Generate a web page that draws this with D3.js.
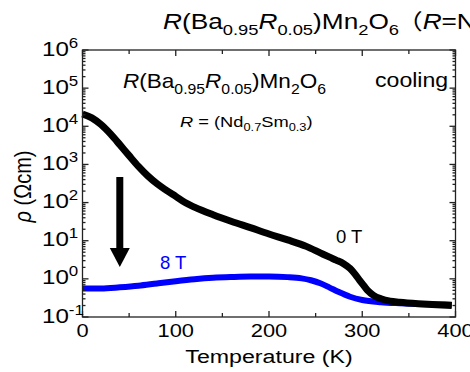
<!DOCTYPE html>
<html>
<head>
<meta charset="utf-8">
<script src="https://cdn.jsdelivr.net/npm/d3@7"></script>
<style>
  body { margin: 0; background: #fff; }
  svg { display: block; font-family: "Liberation Sans", Arial, "Noto Sans CJK JP", sans-serif; }
</style>
</head>
<body>
<div id="chart"></div>
<script>
// 0 T curve (cooling), temperature in K, resistivity in Ohm cm
const tBlack = [0, 10, 20, 30, 40, 50, 60, 70, 80, 90, 100, 110, 120, 140, 160, 180, 200, 220, 240,
  255, 265, 272, 280, 287, 292, 297, 302, 306, 312, 320, 330, 340, 360, 380, 396]
const rhoBlack = [2.1e4, 1.66e4, 1.1e4, 6.3e3, 3.3e3, 1.7e3, 890, 500, 310, 209, 145, 100, 76, 48, 32, 22, 15, 10.5, 7.1,
  4.8, 3.7, 3.1, 2.5, 1.86, 1.35, 0.93, 0.65, 0.49, 0.37, 0.30, 0.26, 0.245, 0.224, 0.209, 0.2]

// 8 T curve
const tBlue = [0, 20, 40, 60, 80, 100, 120, 140, 160, 180, 200, 220, 235, 245, 255, 265, 275, 287, 300, 320, 340, 360, 380, 396]
const rhoBlue = [0.56, 0.56, 0.60, 0.66, 0.76, 0.87, 0.98, 1.07, 1.12, 1.15, 1.15, 1.11, 1.03, 0.92, 0.77, 0.59, 0.45, 0.34, 0.28, 0.245, 0.23, 0.22, 0.214, 0.209]

const xTicks = [0, 100, 200, 300, 400]
const xMinor = [50, 150, 250, 350]
const yExponents = [6, 5, 4, 3, 2, 1, 0, -1]

// field arrow: at T = 40 K, from rho top down to rho tip
const arrowT = 40
const arrowRho = [10 ** 2.67, 10 ** 0.81, 10 ** 0.31]

const W = 470
const H = 372
const margin = { top: 50, right: 14.5, bottom: 55, left: 82.5 }

const svg = d3.select('#chart').append('svg')
  .attr('width', W)
  .attr('height', H)

svg.append('rect').attr('width', W).attr('height', H).attr('fill', '#fff')

const x = d3.scaleLinear()
  .domain([0, 400])
  .range([margin.left, W - margin.right])

const y = d3.scaleLog()
  .domain([0.1, 1e6])
  .range([H - margin.bottom, margin.top])

// rich text helper: parts are strings or [text, kind, dx] with kind among i, sub, sup
function addText (parent, px, py, parts, size, sx, anchor, fill) {
  const t = parent.append('text')
    .attr('transform', 'translate(' + px + ',' + py + ') scale(' + sx + ',1)')
    .attr('font-size', size)
    .attr('text-anchor', anchor || 'start')
    .attr('fill', fill || '#000')
  let shift = 0
  parts.forEach(function (p) {
    const s = typeof p === 'string' ? p : p[0]
    const kind = typeof p === 'string' ? '' : p[1]
    const ts = t.append('tspan').text(s)
    let target = 0
    if (kind.indexOf('sub') >= 0) { target = size * 0.28; ts.attr('font-size', size * 0.7) }
    if (kind.indexOf('sup') >= 0) { target = -size * 0.38; ts.attr('font-size', size * 0.7) }
    if (kind === 'i') ts.attr('font-style', 'italic')
    if (typeof p !== 'string' && p[2]) ts.attr('dx', p[2])
    ts.attr('dy', target - shift)
    shift = target
  })
  return t
}

// curves
const line = d3.line()
  .x(d => x(d[0]))
  .y(d => y(d[1]))
  .curve(d3.curveMonotoneX)

svg.append('path')
  .datum(d3.zip(tBlue, rhoBlue))
  .attr('d', line)
  .attr('fill', 'none')
  .attr('stroke', '#0000ff')
  .attr('stroke-width', 6)

svg.append('path')
  .datum(d3.zip(tBlack, rhoBlack))
  .attr('d', line)
  .attr('fill', 'none')
  .attr('stroke', '#000')
  .attr('stroke-width', 7)

// arrow
const ax = x(arrowT)
svg.append('line')
  .attr('x1', ax).attr('x2', ax)
  .attr('y1', y(arrowRho[0])).attr('y2', y(arrowRho[1]) + 1)
  .attr('stroke', '#000')
  .attr('stroke-width', 7)
svg.append('path')
  .attr('d', 'M' + (ax - 10) + ',' + y(arrowRho[1]) + 'L' + (ax + 10) + ',' + y(arrowRho[1]) +
    'L' + ax + ',' + y(arrowRho[2]) + 'Z')
  .attr('fill', '#000')

// frame and ticks (inward)
const frame = svg.append('g').attr('stroke', '#222').attr('stroke-width', 1.3)
const x0 = x.range()[0]
const x1 = x.range()[1]
const y0 = y.range()[0]
const y1 = y.range()[1]
frame.append('rect')
  .attr('x', x0).attr('y', y1)
  .attr('width', x1 - x0).attr('height', y0 - y1)
  .attr('fill', 'none')

xTicks.concat(xMinor).forEach(function (t) {
  const len = xTicks.indexOf(t) >= 0 ? 6 : 4
  frame.append('line').attr('x1', x(t)).attr('x2', x(t)).attr('y1', y0).attr('y2', y0 - len)
  frame.append('line').attr('x1', x(t)).attr('x2', x(t)).attr('y1', y1).attr('y2', y1 + len)
})

y.ticks().forEach(function (t) {
  const isMajor = Math.abs(Math.log10(t) - Math.round(Math.log10(t))) < 1e-6
  const len = isMajor ? 6 : 3
  frame.append('line').attr('x1', x0).attr('x2', x0 + len).attr('y1', y(t)).attr('y2', y(t))
  frame.append('line').attr('x1', x1).attr('x2', x1 - len).attr('y1', y(t)).attr('y2', y(t))
})

// tick labels
xTicks.forEach(function (t) {
  addText(svg, x(t), y0 + 20, [String(t)], 19, 1.15, 'middle')
})
yExponents.forEach(function (e) {
  addText(svg, 42, y(10 ** e) + 5.5, ['10', [String(e), 'sup']], 21, 1.15, 'start')
})

// axis titles
addText(svg, (x0 + x1) / 2, 363, ['Temperature (K)'], 19, 1.22, 'middle')
svg.append('text')
  .attr('transform', 'translate(31,186.5) rotate(-90) scale(1,1.2)')
  .attr('font-size', 20)
  .attr('text-anchor', 'middle')
  .call(function (t) {
    t.append('tspan').attr('font-style', 'italic').text('\u03c1')
    t.append('tspan').text(' (\u03a9cm)')
  })

// title
addText(svg, 163, 28.5, [['R', 'i'], '(Ba', ['0.95', 'sub'], ['R', 'i'], ['0.05', 'sub'], ')Mn', ['2', 'sub'], 'O', ['6', 'sub'],
  ['\uff08', '', '-0.1em'], ['R', 'i'], '=Nd', ['0.7', 'sub'], 'Sm', ['0.3', 'sub'], '\uff09'], 21.5, 1.22, 'start')

// annotations
addText(svg, 123, 88, [['R', 'i'], '(Ba', ['0.95', 'sub'], ['R', 'i'], ['0.05', 'sub'], ')Mn', ['2', 'sub'], 'O', ['6', 'sub']], 20.5, 1.1, 'start')
addText(svg, 180, 127, [['R', 'i'], ' = (Nd', ['0.7', 'sub'], 'Sm', ['0.3', 'sub'], ')'], 15.5, 1.18, 'start')
addText(svg, 375, 87, ['cooling'], 21, 1.1, 'start')
addText(svg, 336, 243, ['0 T'], 18.5, 1.0, 'start')
addText(svg, 160, 269, ['8 T'], 18.5, 1.0, 'start', '#0000ff')
</script>
</body>
</html>
